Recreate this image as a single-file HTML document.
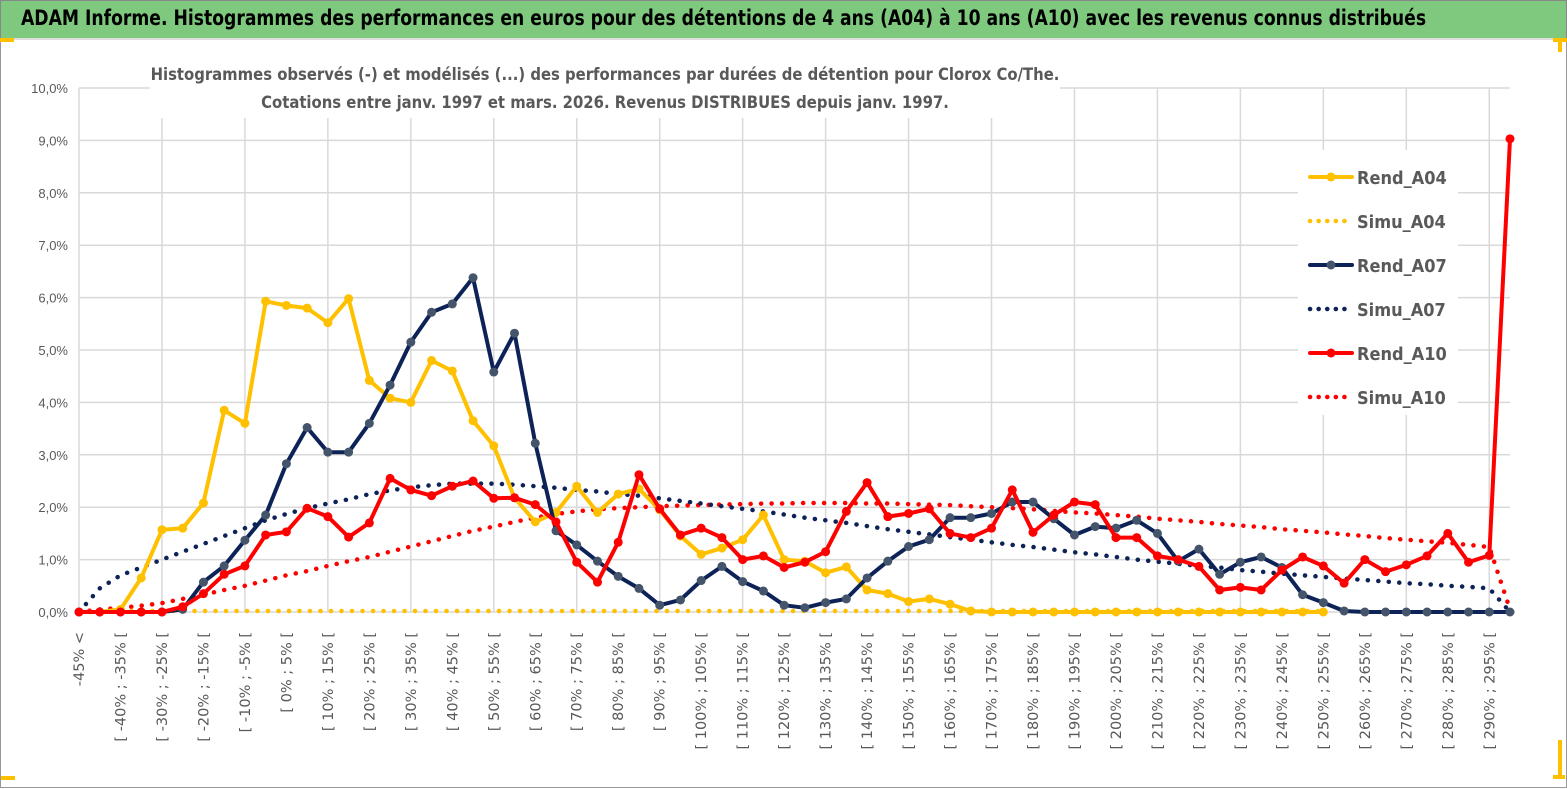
<!DOCTYPE html>
<html><head><meta charset="utf-8">
<style>
html,body{margin:0;padding:0;background:#fff;}
body{width:1567px;height:789px;overflow:hidden;position:relative;font-family:"Liberation Sans",sans-serif;}
#hdr{position:absolute;left:0;top:0;width:1565px;height:37px;background:#7fc97f;border:1px solid #888;border-bottom:2px solid #ddd;}
#hdr span{position:absolute;left:20px;top:5px;font-family:"DejaVu Sans Condensed","Liberation Sans Narrow","Liberation Sans",sans-serif;font-weight:bold;font-size:21px;color:#000;white-space:nowrap;transform:scaleX(0.91);transform-origin:0 0;}
#frame{position:absolute;left:0;top:39px;width:1565px;height:748px;border:1px solid #999;border-top:none;}
</style></head><body>
<div id="hdr"><span>ADAM Informe. Histogrammes des performances en euros pour des détentions de 4 ans (A04) à 10 ans (A10) avec les revenus connus distribués</span></div>
<div id="frame"></div>
<svg id="chart" width="1567" height="789" style="position:absolute;left:0;top:0"></svg>
<script>
const categoriesCount = 70;
const yTicks = [0,1,2,3,4,5,6,7,8,9,10];
const rendA04 = [0,0,0.05,0.65,1.57,1.6,2.08,3.85,3.6,5.93,5.85,5.8,5.52,5.98,4.42,4.08,4.0,4.8,4.6,3.65,3.17,2.18,1.72,1.9,2.4,1.9,2.25,2.35,1.95,1.45,1.1,1.22,1.38,1.85,1.0,0.97,0.75,0.86,0.42,0.35,0.2,0.25,0.15,0.02,0,0,0,0,0,0,0,0,0,0,0,0,0,0,0,0,0];
const simuA04 = [0,0,0.02,0.02,0.02,0.02,0.02,0.02,0.02,0.02,0.02,0.02,0.02,0.02,0.02,0.02,0.02,0.02,0.02,0.02,0.02,0.02,0.02,0.02,0.02,0.02,0.02,0.02,0.02,0.02,0.02,0.02,0.02,0.02,0.02,0.02,0.02,0.02,0.02,0.02,0.02,0.02,0.02,0.02,0.02,0.02,0.02,0.02,0.02,0.02,0.02,0.02,0.02,0.02,0.02,0.02,0.02,0.02,0.02,0.02,0.02];
const rendA07 = [0,0,0,0,0,0.05,0.57,0.88,1.37,1.85,2.83,3.52,3.05,3.05,3.6,4.33,5.15,5.72,5.88,6.38,4.58,5.32,3.22,1.55,1.28,0.97,0.68,0.45,0.13,0.23,0.6,0.87,0.58,0.4,0.13,0.08,0.18,0.25,0.65,0.97,1.25,1.38,1.8,1.8,1.88,2.1,2.1,1.78,1.47,1.63,1.6,1.75,1.5,0.97,1.2,0.72,0.95,1.05,0.85,0.33,0.18,0.02,0,0,0,0,0,0,0,0];
const simuA07 = [0,0.45,0.7,0.85,1.0,1.15,1.3,1.45,1.6,1.75,1.87,1.98,2.07,2.15,2.25,2.32,2.38,2.42,2.45,2.45,2.45,2.43,2.4,2.37,2.33,2.3,2.25,2.22,2.17,2.12,2.07,2.02,1.97,1.92,1.86,1.8,1.75,1.7,1.64,1.58,1.53,1.48,1.43,1.38,1.33,1.28,1.24,1.19,1.14,1.1,1.05,1.0,0.96,0.92,0.88,0.85,0.8,0.77,0.73,0.7,0.67,0.64,0.61,0.58,0.55,0.53,0.5,0.48,0.45,0.0];
const rendA10 = [0,0,0,0,0,0.1,0.35,0.72,0.88,1.47,1.53,1.98,1.82,1.43,1.7,2.55,2.33,2.22,2.4,2.5,2.17,2.18,2.05,1.72,0.95,0.57,1.33,2.62,1.97,1.47,1.6,1.42,1.0,1.07,0.85,0.95,1.15,1.92,2.47,1.82,1.88,1.97,1.5,1.42,1.6,2.33,1.52,1.85,2.1,2.05,1.42,1.42,1.07,1.0,0.87,0.42,0.47,0.42,0.8,1.05,0.88,0.55,1.0,0.77,0.9,1.07,1.5,0.95,1.08,9.03];
const simuA10 = [0,0.05,0.08,0.12,0.17,0.25,0.33,0.42,0.5,0.6,0.7,0.78,0.88,0.97,1.05,1.15,1.25,1.35,1.45,1.55,1.63,1.72,1.8,1.87,1.92,1.96,1.98,2.0,2.02,2.03,2.04,2.05,2.06,2.07,2.07,2.08,2.08,2.08,2.07,2.07,2.06,2.05,2.04,2.02,2.0,1.98,1.96,1.93,1.9,1.88,1.85,1.82,1.78,1.75,1.72,1.68,1.65,1.62,1.58,1.55,1.52,1.48,1.45,1.41,1.38,1.35,1.32,1.28,1.24,0.05];

const NS='http://www.w3.org/2000/svg';
const svg=document.getElementById('chart');
const X0=79, X1=1510, Y0=612, Y10=88;
const xs=i=>X0+(X1-X0)*i/(categoriesCount-1);
const ys=v=>Y0-(Y0-Y10)*v/10;
function mk(tag,attrs,parent){const e=document.createElementNS(NS,tag);for(const k in attrs)e.setAttribute(k,attrs[k]);(parent||svg).appendChild(e);return e;}
function catLabel(i){if(i===0)return '-45% <';const lo=-45+5*(i-1);return '[ '+lo+'% ; '+(lo+5)+'% [';}

yTicks.forEach(t=>{
  const l=mk('line',{x1:X0,x2:X1,y1:ys(t),y2:ys(t),stroke:'#d9d9d9','stroke-width':1.5});
  
  
  const tx=mk('text',{x:68,y:ys(t)+5,'text-anchor':'end','font-size':13,fill:'#595959','font-family':'Liberation Sans Narrow, Liberation Sans, sans-serif'});
  tx.textContent=t.toFixed(1).replace('.',',')+'%';
  
  
});
for(let i=0;i<categoriesCount;i+=4){
  const l=mk('line',{x1:xs(i),x2:xs(i),y1:Y10,y2:Y0,stroke:'#d9d9d9','stroke-width':1.5});
  
  
}
for(let i=0;i<categoriesCount;i+=2){
  const tx=mk('text',{x:0,y:0,'text-anchor':'end','font-size':14.5,fill:'#595959','font-family':'DejaVu Sans, sans-serif',transform:'translate('+(xs(i)+5)+',632) rotate(-90)'});
  tx.textContent=catLabel(i);
  
  
}

const tb=mk('rect',{x:150,y:58,width:910,height:60,fill:'#fff'});


const t1=mk('text',{x:605,y:80,'text-anchor':'middle','font-size':16.5,'font-weight':'bold',fill:'#595959','font-family':'DejaVu Sans Condensed, Liberation Sans Narrow, sans-serif'});
t1.textContent='Histogrammes observés (-) et modélisés (...)  des performances par durées de détention pour Clorox Co/The.';


const t2=mk('text',{x:605,y:108,'text-anchor':'middle','font-size':16.5,'font-weight':'bold',fill:'#595959','font-family':'DejaVu Sans Condensed, Liberation Sans Narrow, sans-serif'});
t2.textContent='Cotations entre janv. 1997 et mars. 2026.  Revenus DISTRIBUES depuis janv. 1997.';



const lb=mk('rect',{x:1298,y:150,width:160,height:265,fill:'#fff'});



const series=[
 {name:'simu-a10',data:simuA10,color:'#ff0000',dot:true},
 {name:'simu-a07',data:simuA07,color:'#0d2357',dot:true},
 {name:'simu-a04',data:simuA04,color:'#ffc000',dot:true},
 {name:'rend-a04',data:rendA04,color:'#ffc000',dot:false,mk:'#ffc000'},
 {name:'rend-a07',data:rendA07,color:'#0d2357',dot:false,mk:'#44546a'},
 {name:'rend-a10',data:rendA10,color:'#ff0000',dot:false,mk:'#ff0000'}
];
series.forEach(s=>{
  const g=mk('g',{});
  
  
  let d='';
  s.data.forEach((v,i)=>{d+=(i?'L':'M')+xs(i).toFixed(1)+','+ys(v).toFixed(1);});
  const p=mk('path',{d:d,fill:'none',stroke:s.color,'stroke-width':s.dot?4.5:4,'stroke-linejoin':'round','stroke-linecap':'round','stroke-dasharray':s.dot?'0.1 10.4':'none'},g);
  
  
  if(!s.dot){s.data.forEach((v,i)=>{
    const c=mk('circle',{cx:xs(i),cy:ys(v),r:4.5,fill:s.mk},g);
    
    
  });}
});

const leg=[['Rend_A04','#ffc000',false],['Simu_A04','#ffc000',true],['Rend_A07','#0d2357',false],['Simu_A07','#0d2357',true],['Rend_A10','#ff0000',false],['Simu_A10','#ff0000',true]];
leg.forEach((e,k)=>{
  const y=177+k*44;
  const g=mk('g',{});
  
  
  mk('line',{x1:1310,x2:1352,y1:y,y2:y,stroke:e[1],'stroke-width':e[2]?4.5:4,'stroke-linecap':'round','stroke-dasharray':e[2]?'0.1 8.5':'none'},g);
  if(!e[2])mk('circle',{cx:1331,cy:y,r:4.5,fill:e[1]==='#0d2357'?'#44546a':e[1]},g);
  const tx=mk('text',{x:1357,y:y+7,'font-size':18,'font-weight':'bold',fill:'#595959','font-family':'DejaVu Sans Condensed, Liberation Sans Narrow, sans-serif'},g);
  tx.textContent=e[0];
});

[[0,38,14,4],[1553,38,14,4],[1558,38,4,14],[1,776,14,4],[1553,775,12,4],[1558,740,4,38]].forEach(r=>{
  const d=mk('rect',{x:r[0],y:r[1],width:r[2],height:r[3],fill:'#ffc000'});
  
  
});
</script>
</body></html>
